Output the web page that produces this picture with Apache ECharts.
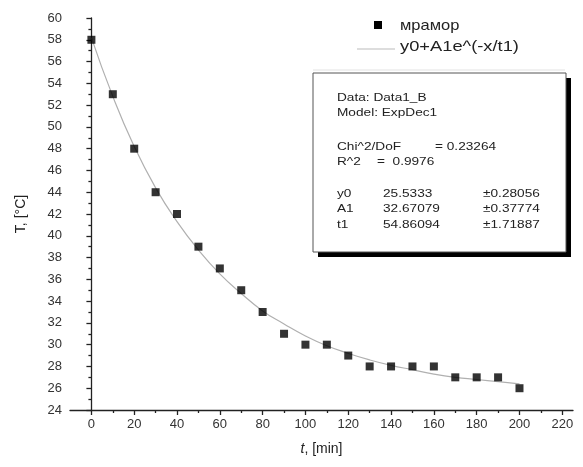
<!DOCTYPE html>
<html>
<head>
<meta charset="utf-8">
<script src="https://cdn.jsdelivr.net/npm/echarts@6/dist/echarts.min.js"></script>
<style>
html,body{margin:0;padding:0;background:#fff}
#chart{width:583px;height:467px}
</style>
</head>
<body>
<div id="chart"></div>
<script>
// time, min
let tData=[0,10,20,30,40,50,60,70,80,90,100,110,120,130,140,150,160,170,180,190,200]
// measured temperature, marble
let tempData=[58,53,48,44,42,39,37,35,33,31,30,30,29,28,28,28,28,27,27,27,26]
// fitted curve
let fitData=[58.2,52.8,48.2,44.4,41.3,38.7,36.5,34.7,33.1,31.9,30.8,29.9,29.2,28.6,28.1,27.7,27.3,27.0,26.8,26.6,26.4]
let xMajor=[0,20,40,60,80,100,120,140,160,180,200,220]
let xMinor=[10,30,50,70,90,110,130,150,170,190,210]
let seriesNames=["мрамор","y0+A1e^(-x/t1)"]

let font="'Liberation Sans', Arial, sans-serif"
let boxX=313, boxY=73, boxW=253, boxH=179

// text block of the fit report, drawn a bit wide like the original
function txt(x,y,s,size,sx){
	return {type:"text",x:x,y:y,scaleX:sx||1.3,z:20,
		style:{text:s,font:(size||10.5)+"px "+font,fill:"#222",verticalAlign:"middle"}}
}

let chart=echarts.init(document.getElementById("chart"))
chart.setOption({
	animation:false,
	backgroundColor:"#fff",
	grid:{left:70,right:10,top:18,bottom:57},
	xAxis:[
		{
			type:"value",min:-10,max:225,
			axisLine:{lineStyle:{color:"#222",width:1.3}},
			axisTick:{customValues:xMajor,length:5,lineStyle:{color:"#222",width:1.3}},
			axisLabel:{customValues:xMajor,color:"#333",fontSize:13,fontFamily:font,margin:8},
			splitLine:{show:false},
			name:"{i|t}, [min]",nameLocation:"middle",nameGap:32,
			nameTextStyle:{color:"#222",fontSize:14,fontFamily:font,rich:{i:{fontStyle:"italic",fontSize:14,fontFamily:font,color:"#222"}}}
		},
		{
			type:"value",min:-10,max:225,position:"bottom",
			axisLine:{show:false},
			axisTick:{customValues:xMinor,length:3,lineStyle:{color:"#222",width:1.3}},
			axisLabel:{show:false},
			splitLine:{show:false}
		}
	],
	yAxis:{
		type:"value",min:24,max:60,interval:2,
		axisLine:{show:true,lineStyle:{color:"#222",width:1.3}},
		axisTick:{show:true,length:5,lineStyle:{color:"#222",width:1.3}},
		minorTick:{show:true,splitNumber:2,length:3,lineStyle:{color:"#222",width:1.3}},
		axisLabel:{color:"#333",fontSize:13,fontFamily:font,margin:8},
		splitLine:{show:false},
		name:"T, [°C]",nameLocation:"middle",nameGap:42,
		nameTextStyle:{color:"#222",fontSize:14,fontFamily:font}
	},
	graphic:[
		// legend
		{type:"rect",shape:{x:374,y:21,width:8,height:8},style:{fill:"#000"},z:20},
		txt(400,26,seriesNames[0],15,1.1),
		{type:"line",shape:{x1:357,y1:49,x2:395,y2:49},style:{stroke:"#bbb",lineWidth:1.2},z:20},
		txt(400,47,seriesNames[1],15,1.22),
		{type:"line",shape:{x1:313,y1:70,x2:565,y2:70},style:{stroke:"#e2e2e2",lineWidth:1},z:5},
		// fit report box
		{type:"rect",shape:{x:boxX+5,y:boxY+5,width:boxW,height:boxH},style:{fill:"#000"},z:10},
		{type:"rect",shape:{x:boxX,y:boxY,width:boxW,height:boxH},style:{fill:"#fff",stroke:"#555",lineWidth:1},z:11},
		txt(337,98,"Data: Data1_B"),
		txt(337,113,"Model: ExpDec1"),
		txt(337,147,"Chi^2/DoF"),
		txt(435,147,"= 0.23264"),
		txt(337,162,"R^2"),
		txt(377,162,"=  0.9976"),
		txt(337,194,"y0"),
		txt(383,194,"25.5333"),
		txt(483,194,"±0.28056"),
		txt(337,209,"A1"),
		txt(383,209,"32.67079"),
		txt(483,209,"±0.37774"),
		txt(337,225,"t1"),
		txt(383,225,"54.86094"),
		txt(483,225,"±1.71887")
	],
	series:[
		{
			name:seriesNames[1],type:"line",smooth:true,symbol:"none",
			data:tData.map((t,i)=>[t,fitData[i]]),
			lineStyle:{color:"#b0b0b0",width:1.2},z:2
		},
		{
			name:seriesNames[0],type:"scatter",symbol:"rect",symbolSize:8,
			data:tData.map((t,i)=>[t,tempData[i]]),
			itemStyle:{color:"#000"},z:3
		}
	]
})
</script>
</body>
</html>
